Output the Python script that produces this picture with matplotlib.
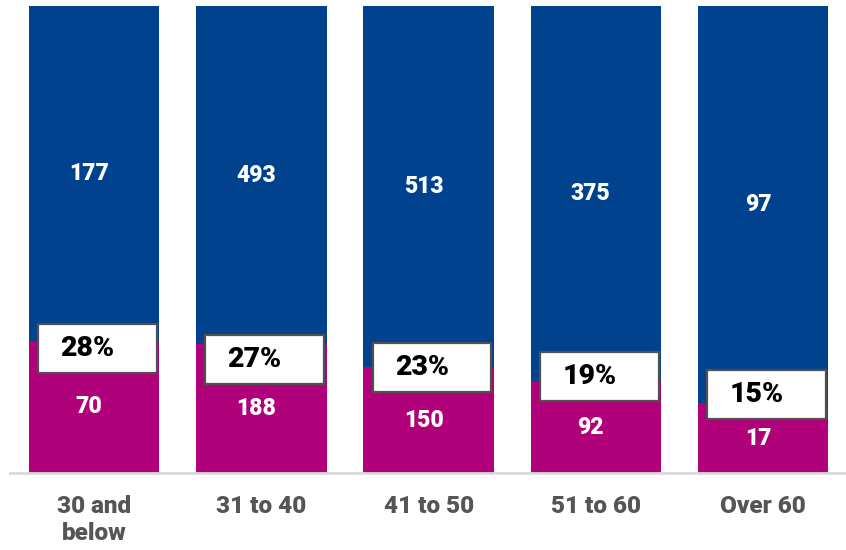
import matplotlib.pyplot as plt
from matplotlib.patches import Rectangle

categories = ['30 and\nbelow', '31 to 40', '41 to 50', '51 to 60', 'Over 60']
lower_counts = [70, 188, 150, 92, 17]
upper_counts = [177, 493, 513, 375, 97]
pct_labels = ['28%', '27%', '23%', '19%', '15%']
box_shift = [-0.017, -0.032, -0.001, 0.009, 0.018]

blue = '#01428E'
magenta = '#B0007A'
fam = 'Roboto'

totals = [a + b for a, b in zip(lower_counts, upper_counts)]
lower_share = [a / t for a, t in zip(lower_counts, totals)]
upper_share = [b / t for b, t in zip(upper_counts, totals)]

fig = plt.figure(figsize=(8.46, 5.5), dpi=100)
ax = fig.add_axes([10 / 846, 77 / 550, 836 / 846, 467 / 550])

x = range(len(categories))
ax.bar(x, lower_share, width=0.78, color=magenta)
ax.bar(x, upper_share, width=0.78, bottom=lower_share, color=blue)

box_w, box_h = 0.71, 0.105
for i in x:
    lo = lower_share[i]
    ax.text(i - 0.03, lo + upper_share[i] / 2, str(upper_counts[i]), ha='center', va='center',
            color='white', fontsize=16.5, fontweight='black', family=fam)
    ax.text(i - 0.03, lo / 2, str(lower_counts[i]), ha='center', va='center',
            color='white', fontsize=16.5, fontweight='black', family=fam)
    yc = lo + box_shift[i]
    ax.add_patch(Rectangle((i - box_w / 2 + 0.02, yc - box_h / 2), box_w, box_h,
                           facecolor='white', edgecolor='#505050', linewidth=1.6, zorder=3))
    ax.text(i - 0.04, yc, pct_labels[i], ha='center', va='center',
            color='black', fontsize=20.5, fontweight='black', family=fam, zorder=4)

ax.set_xlim(-0.502, 4.495)
ax.set_ylim(0, 1)
ax.set_yticks([])
ax.set_xticks(list(x))
ax.set_xticklabels(categories, fontsize=17.5, fontweight='black', color='#555555',
                   family=fam, linespacing=1.2, va='top')
ax.tick_params(axis='x', length=0, pad=16)
for s in ['top', 'right', 'left']:
    ax.spines[s].set_visible(False)
ax.spines['bottom'].set_color('#D9D9D9')
ax.spines['bottom'].set_linewidth(2)

plt.savefig('out.png', dpi=100)
